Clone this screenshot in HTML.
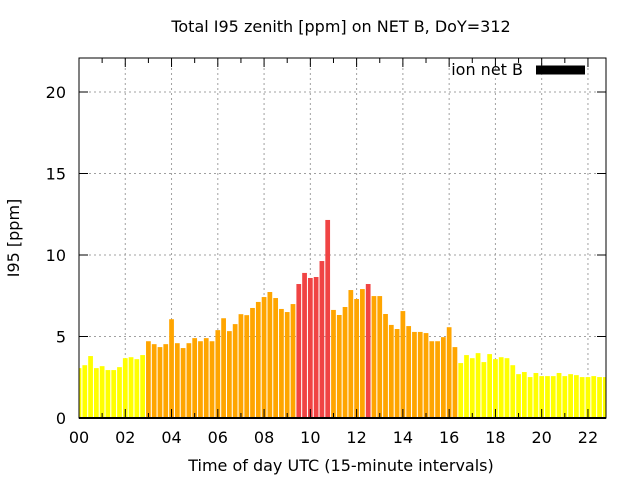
<!DOCTYPE html>
<html><head><meta charset="utf-8"><style>
body{margin:0;background:#fff;}
svg{display:block;font-family:"DejaVu Sans","Liberation Sans",sans-serif;}
</style></head><body>
<svg id="chart" width="640" height="480" viewBox="0 0 640 480">
<rect width="640" height="480" fill="#fff"/>
<text x="341" y="32" text-anchor="middle" font-size="16">Total I95 zenith [ppm] on NET B, DoY=312</text>
<g id="grid"></g>
<g id="bars"></g>
<g id="axes"></g>
<text transform="translate(19,238) rotate(-90)" text-anchor="middle" font-size="16">I95 [ppm]</text>
<text x="341" y="471" text-anchor="middle" font-size="16">Time of day UTC (15-minute intervals)</text>
<g>
<text x="523" y="75" text-anchor="end" font-size="16">ion net B</text>
<rect x="536" y="65.5" width="49" height="9" fill="#000"/>
</g>
</svg>
<script>
const values = [3.06,3.24,3.8,3.06,3.18,2.94,2.94,3.12,3.67,3.73,3.61,3.86,
4.71,4.53,4.35,4.53,6.06,4.59,4.29,4.59,4.9,4.71,4.9,4.71,5.39,6.12,5.33,5.76,6.37,6.31,
6.75,7.12,7.42,7.73,7.36,6.69,6.5,6.99,8.22,8.9,8.59,8.65,9.63,12.15,6.63,6.32,6.81,7.85,7.3,7.91,
8.22,7.48,7.48,6.38,5.71,5.46,6.56,5.64,5.28,5.28,5.21,4.71,4.71,4.96,5.57,4.35,
3.37,3.86,3.67,3.98,3.43,3.92,3.61,3.73,3.67,3.24,2.69,2.82,2.51,2.76,2.57,2.57,2.57,2.76,2.57,2.69,2.63,2.51,2.51,2.57,2.51,2.51];
const xTicks = [0,2,4,6,8,10,12,14,16,18,20,22];
const xTickLabels = ["00","02","04","06","08","10","12","14","16","18","20","22"];
const yTicks = [0,5,10,15,20];
const stepHours = 0.25;
const L=79, R=606, T=58, B=418;
const xMax = 22.78, yMax = (B-T)/16.3;
const xs = h => L + h/xMax*(R-L);
const ys = v => B - v/yMax*(B-T);
const NS="http://www.w3.org/2000/svg";
function mk(tag, attrs, parent){const e=document.createElementNS(NS,tag);for(const k in attrs)e.setAttribute(k,attrs[k]);parent.appendChild(e);return e;}
const grid=document.getElementById('grid'), bars=document.getElementById('bars'), axes=document.getElementById('axes');
yTicks.forEach(v=>{
  if(v>0){const g=mk('line',{x1:L,x2:R,y1:ys(v),y2:ys(v),stroke:'#a0a0a0','stroke-dasharray':'2,3'},grid);
  
  }
  const t=mk('line',{x1:L,x2:L+9,y1:ys(v),y2:ys(v),stroke:'#000'},axes);
  
  
  const t2=mk('line',{x1:R-9,x2:R,y1:ys(v),y2:ys(v),stroke:'#000'},axes);
  
  
  const lb=mk('text',{x:L-13,y:ys(v)+6,'text-anchor':'end','font-size':16},axes);
  lb.textContent=v;
  
  
});
xTicks.forEach((h,i)=>{
  const x=xs(h);
  if(h>0){const g=mk('line',{x1:x,x2:x,y1:T,y2:B,stroke:'#a0a0a0','stroke-dasharray':'2,3'},grid);
  
  }
  const t=mk('line',{x1:x,x2:x,y1:B,y2:B-9,stroke:'#000'},axes);
  
  
  const t2=mk('line',{x1:x,x2:x,y1:T,y2:T+9,stroke:'#000'},axes);
  
  
  const lb=mk('text',{x:x,y:B+25,'text-anchor':'middle','font-size':16},axes);
  lb.textContent=xTickLabels[i];
  
  
  const mx=xs(h+1);
  if(h+1<xMax){
    const m=mk('line',{x1:mx,x2:mx,y1:B,y2:B-5,stroke:'#000'},axes);
    
    
    const m2=mk('line',{x1:mx,x2:mx,y1:T,y2:T+5,stroke:'#000'},axes);
    
    
  }
});
const clip=mk('clipPath',{id:'pc'},document.getElementById('chart'));
mk('rect',{x:L,y:T,width:R-L,height:B-T},clip);
bars.setAttribute('clip-path','url(#pc)');
const bw=(xs(stepHours)-xs(0))*0.82;
values.forEach((v,i)=>{
  const cx=xs(i*stepHours);
  const col = v>8 ? '#f04444' : (v>=4 ? '#ffa500' : '#ffff00');
  const r=mk('rect',{x:cx-bw/2,y:ys(v),width:bw,height:B-ys(v),fill:col},bars);
  
  
});
const fr=mk('rect',{x:L,y:T,width:R-L,height:B-T,fill:'none',stroke:'#000','stroke-width':1},axes);


const bl=mk('line',{x1:L,x2:R,y1:B,y2:B,stroke:'#000','stroke-width':2},axes);


</script>
</body></html>
